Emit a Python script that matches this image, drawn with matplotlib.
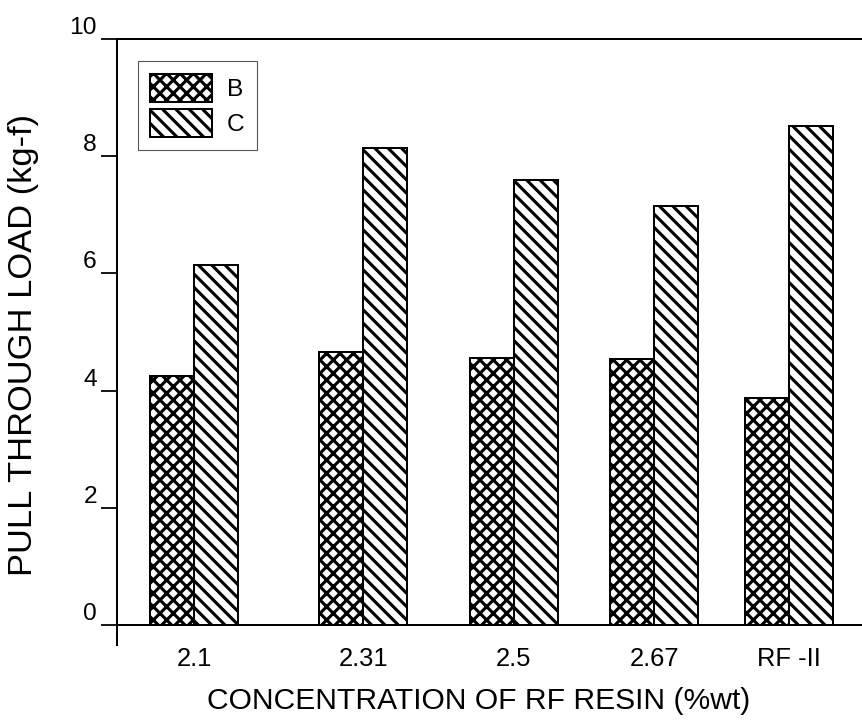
"""Pull-through load of cords B and C at different RF resin concentrations."""

import matplotlib

matplotlib.use("Agg")
import matplotlib.pyplot as plt
from matplotlib.patches import Patch

plt.rcParams["font.family"] = ["Liberation Sans", "DejaVu Sans"]
plt.rcParams["hatch.linewidth"] = 2.8

categories = ["2.1", "2.31", "2.5", "2.67", "RF -II"]
load_b = [4.25, 4.66, 4.56, 4.54, 3.87]
load_c = [6.14, 8.14, 7.59, 7.15, 8.52]

# group centres are not evenly spread on the original axis
group_x = [0.0, 1.0, 1.89, 2.72, 3.52]
width = 0.26

HATCH_B = "xx"
HATCH_C = "\\\\"

DPI = 80
fig = plt.figure(figsize=(862 / DPI, 720 / DPI), dpi=DPI)
ax = fig.add_axes([0.1357, 0.1035, 0.8643, 0.8423])

xb = [x - width / 2 for x in group_x]
xc = [x + width / 2 for x in group_x]
ax.bar(xb, load_b, width, color="white", edgecolor="black", hatch=HATCH_B,
       linewidth=1.8, label="B")
ax.bar(xc, load_c, width, color="white", edgecolor="black", hatch=HATCH_C,
       linewidth=1.8, label="C")

ax.set_xlim(-0.456, 3.95)
ax.set_ylim(-0.35, 10)
ax.set_yticks([0, 2, 4, 6, 8, 10])
ax.set_xticks(group_x)
ax.set_xticklabels(categories)

ax.spines["right"].set_visible(False)
ax.spines["bottom"].set_position(("data", 0))
for s in ["left", "bottom", "top"]:
    ax.spines[s].set_linewidth(1.8)

ax.tick_params(axis="x", length=0, pad=20, labelsize=23)
ax.tick_params(axis="y", direction="out", length=14, width=1.6, pad=4,
               labelsize=22)
for lab in ax.get_yticklabels():
    lab.set_verticalalignment("bottom")

ax.set_xlabel("CONCENTRATION OF RF RESIN (%wt)", fontsize=27)
ax.set_ylabel("PULL THROUGH LOAD (kg-f)", fontsize=31)
ax.xaxis.set_label_coords(0.485, -0.068)
ax.yaxis.set_label_coords(-0.104, 0.495)

handles = [
    Patch(facecolor="white", edgecolor="black", hatch=HATCH_B, linewidth=1.8),
    Patch(facecolor="white", edgecolor="black", hatch=HATCH_C, linewidth=1.8),
]
leg = ax.legend(handles, ["B", "C"], loc="upper left",
                bbox_to_anchor=(0.028, 0.963), fontsize=22,
                handlelength=2.55, handleheight=1.4, handletextpad=0.6,
                labelspacing=0.3, borderpad=0.5, borderaxespad=0,
                fancybox=False, framealpha=1)
leg.get_frame().set_edgecolor("#555555")
leg.get_frame().set_linewidth(1.0)

fig.savefig("out.png", dpi=DPI)
